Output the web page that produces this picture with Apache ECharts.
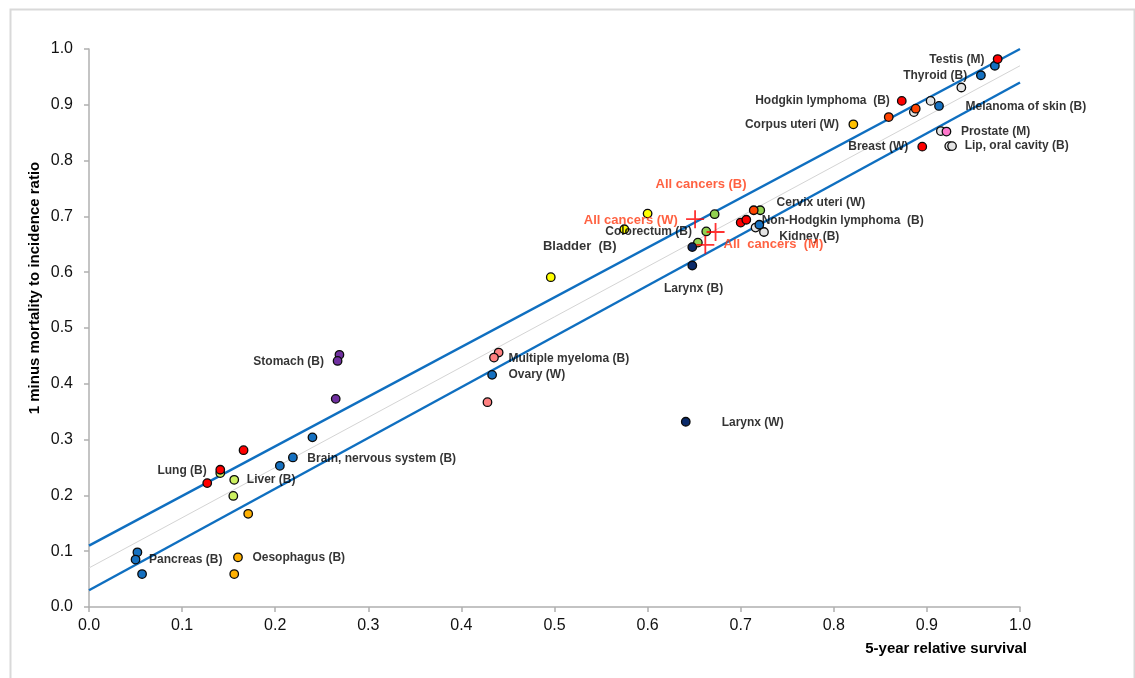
<!DOCTYPE html>
<html><head><meta charset="utf-8">
<script src="https://cdn.jsdelivr.net/npm/echarts@6/dist/echarts.min.js"></script>
<style>html,body{margin:0;padding:0;background:#fff}#c{width:1135px;height:678px}</style>
</head><body><div id="c"></div><script>
// ---- data (x = 5-year relative survival, y = 1 - mortality/incidence) ----
const redPts = [[0.976,0.982],[0.873,0.907],[0.895,0.825],[0.700,0.689],[0.706,0.694],[0.166,0.281],[0.141,0.246],[0.127,0.222]];
const orangeRedPts = [[0.888,0.893],[0.859,0.878],[0.714,0.711]];
const bluePts = [[0.973,0.970],[0.958,0.953],[0.913,0.898],[0.720,0.685],[0.433,0.416],[0.240,0.304],[0.219,0.268],[0.205,0.253],[0.052,0.098],[0.050,0.085],[0.057,0.059]];
const navyPts = [[0.648,0.645],[0.648,0.612],[0.641,0.332]];
const whitePts = [[0.937,0.931],[0.904,0.907],[0.886,0.887],[0.915,0.853],[0.924,0.826],[0.927,0.826],[0.716,0.680],[0.725,0.672]];
const pinkPts = [[0.921,0.852]];
const goldPts = [[0.821,0.865]];
const orangePts = [[0.171,0.167],[0.160,0.089],[0.156,0.059]];
const yellowPts = [[0.600,0.705],[0.575,0.677],[0.496,0.591]];
const greenPts = [[0.672,0.704],[0.663,0.673],[0.654,0.653],[0.721,0.711]];
const yellowGreenPts = [[0.141,0.240],[0.156,0.228],[0.155,0.199]];
const purplePts = [[0.269,0.452],[0.267,0.441],[0.265,0.373]];
const salmonPts = [[0.440,0.456],[0.435,0.447],[0.428,0.367]];
const allCancersPts = [[0.651,0.695],[0.673,0.672],[0.662,0.649]];

// regression line and band (values at x = 0 and x = 1)
const fitX = [0, 1];
const upperY = [0.11, 1.0];
const lowerY = [0.03, 0.94];
const midY = [0.07, 0.97];

const xTicks = [0,0.1,0.2,0.3,0.4,0.5,0.6,0.7,0.8,0.9,1.0];
const yTicks = [0,0.1,0.2,0.3,0.4,0.5,0.6,0.7,0.8,0.9,1.0];

// annotations: [x, y, text]
const siteLabels = [
  [0.902,0.980,'Testis (M)'],
  [0.874,0.953,'Thyroid (B)'],
  [0.715,0.907,'Hodgkin lymphoma  (B)'],
  [0.941,0.897,'Melanoma of skin (B)'],
  [0.704,0.864,'Corpus uteri (W)'],
  [0.936,0.851,'Prostate (M)'],
  [0.815,0.825,'Breast (W)'],
  [0.940,0.826,'Lip, oral cavity (B)'],
  [0.738,0.724,'Cervix uteri (W)'],
  [0.722,0.692,'Non-Hodgkin lymphoma  (B)'],
  [0.554,0.672,'Colorectum (B)'],
  [0.741,0.664,'Kidney (B)'],
  [0.617,0.570,'Larynx (B)'],
  [0.176,0.440,'Stomach (B)'],
  [0.450,0.445,'Multiple myeloma (B)'],
  [0.450,0.416,'Ovary (W)'],
  [0.679,0.331,'Larynx (W)'],
  [0.234,0.266,'Brain, nervous system (B)'],
  [0.073,0.244,'Lung (B)'],
  [0.169,0.228,'Liver (B)'],
  [0.064,0.084,'Pancreas (B)'],
  [0.175,0.089,'Oesophagus (B)']
];
const bigLabels = [[0.487,0.647,'Bladder  (B)']];
const allCancerLabels = [
  [0.608,0.757,'All cancers (B)'],
  [0.531,0.692,'All cancers (W)'],
  [0.681,0.649,'All  cancers  (M)']
];

const FONT = '"Liberation Sans", Arial, sans-serif';
function pts(data, color, z) {
  return { type:'scatter', data:data, symbol:'circle', symbolSize:8.5, z:z||3,
    itemStyle:{color:color, borderColor:'#0a0a0a', borderWidth:1.3, opacity:1}, silent:true };
}
function lbl(arr, color, size, z) {
  return { type:'scatter', symbolSize:1, z:z||5, silent:true,
    itemStyle:{color:'rgba(0,0,0,0)'},
    data: arr.map(a => ({value:[a[0],a[1]], name:a[2]})),
    label:{show:true, position:'right', distance:0, formatter:'{b}', color:color,
      fontFamily:FONT, fontWeight:'bold', fontSize:size} };
}
function line(ys, color, w) {
  return { type:'line', data: fitX.map((x,i)=>[x, ys[i]]), symbol:'none', silent:true, z:1,
    lineStyle:{color:color, width:w} };
}

const chart = echarts.init(document.getElementById('c'));
chart.setOption({
  animation:false,
  backgroundColor:'#fff',
  grid:{left:89, right:115, top:49, bottom:71},
  xAxis:{type:'value', min:0, max:1, interval:0.1,
    axisLine:{lineStyle:{color:'#b0b0b0', width:1.5}},
    axisTick:{show:true, length:5, lineStyle:{color:'#b0b0b0', width:1.5}},
    splitLine:{show:false},
    axisLabel:{margin:11, fontFamily:FONT, fontSize:16, color:'#111', formatter:v=>v.toFixed(1)},
    name:'5-year relative survival', nameLocation:'end', nameGap:7,
    nameTextStyle:{align:'right', verticalAlign:'top', padding:[34,0,0,0], fontFamily:FONT, fontWeight:'bold', fontSize:15, color:'#000'}
  },
  yAxis:{type:'value', min:0, max:1, interval:0.1,
    axisLine:{show:true, lineStyle:{color:'#b0b0b0', width:1.5}},
    axisTick:{show:true, length:5, lineStyle:{color:'#b0b0b0', width:1.5}},
    splitLine:{show:false},
    axisLabel:{margin:16, fontFamily:FONT, fontSize:16, color:'#111', formatter:v=>v.toFixed(1)}
  },
  graphic:[
    {type:'rect', left:8, top:7, shape:{width:1124, height:700}, style:{fill:'none', stroke:'#d9d9d9', lineWidth:2}, silent:true},
    {type:'text', x:35, y:288, rotation:Math.PI/2, style:{text:'1 minus mortality to incidence ratio', fontFamily:FONT, fontWeight:'bold', fontSize:15, fill:'#000', align:'center', verticalAlign:'middle'}, silent:true}
  ],
  series:[
    line(midY, '#d4d4d4', 1),
    line(upperY, '#0f6fc0', 2.5),
    line(lowerY, '#0f6fc0', 2.5),
    pts(whitePts, '#e4e4e4'),
    pts(yellowPts, '#ffff00'),
    pts(yellowGreenPts, '#ccf060'),
    pts(greenPts, '#92d050'),
    pts(bluePts, '#1570c0'),
    pts(navyPts, '#0a2a6a'),
    pts(purplePts, '#7030a0'),
    pts(salmonPts, '#ff8080'),
    pts(pinkPts, '#ff77cc'),
    pts(goldPts, '#ffc000'),
    pts(orangePts, '#ffb000'),
    pts(orangeRedPts, '#ff4400'),
    pts(redPts, '#ff0000'),
    { type:'scatter', data:allCancersPts, symbol:'path://M9,0h2v9h9v2h-9v9h-2v-9h-9v-2h9z', symbolSize:18, z:4, silent:true,
      itemStyle:{color:'#ff0000'} },
    lbl(siteLabels, '#000', 12, 6),
    lbl(bigLabels, '#000', 13, 6),
    lbl(allCancerLabels, '#ff3a12', 13, 6)
  ]
});
</script></body></html>
